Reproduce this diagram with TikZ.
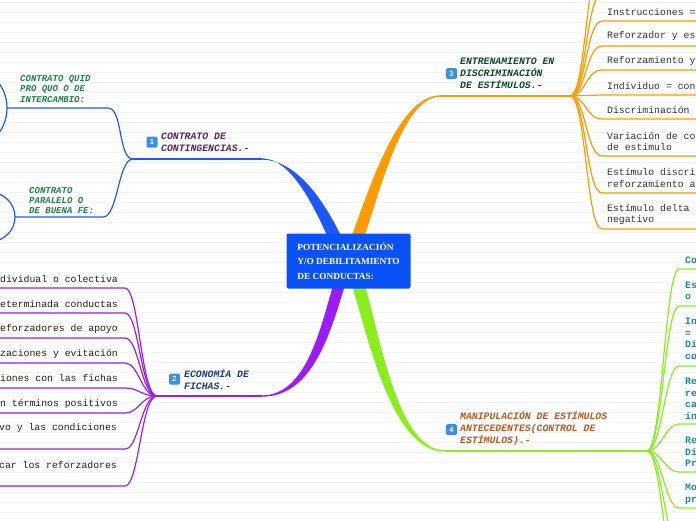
\documentclass[tikz,border=0pt]{standalone}
\usepackage{fontspec}
\setmainfont{Liberation Serif}
\setmonofont{Liberation Mono}
\newfontfamily\iconfont{Liberation Sans}
\usepackage{tikz}
\usetikzlibrary{backgrounds}

\definecolor{rootblue}{HTML}{0A52F8}
\definecolor{blueline}{HTML}{1F57FF}
\definecolor{purpleline}{HTML}{9D1CF5}
\definecolor{orangeline}{HTML}{FF9A00}
\definecolor{limeline}{HTML}{8AEE1E}
\definecolor{iconblue}{HTML}{3A8EE6}
\definecolor{txtpurple}{HTML}{57246F}
\definecolor{txtnavy}{HTML}{1B3C8C}
\definecolor{txtdkgreen}{HTML}{0F4A2C}
\definecolor{txtrust}{HTML}{C0561E}
\definecolor{txtgreen}{HTML}{1A8548}
\definecolor{txtbrown}{HTML}{2A1D14}
\definecolor{txtgray}{HTML}{333333}
\definecolor{txtteal}{HTML}{178F8F}
\definecolor{stripe}{HTML}{F4F4F4}

\tikzset{
  rootbox/.style={fill=rootblue, rounded corners=2pt, minimum width=124pt, minimum height=55pt,
    inner sep=0pt, text=white, align=left, font=\bfseries\fontsize{9.3}{14.5}\selectfont},
  mainlabel/.style={anchor=west, inner sep=0pt, align=left,
    font=\ttfamily\bfseries\itshape\fontsize{9.8}{12}\selectfont},
  contractlabel/.style={anchor=west, inner sep=0pt, align=left, text=txtgreen,
    font=\ttfamily\bfseries\itshape\fontsize{9}{10.3}\selectfont},
  leaf/.style={inner sep=0pt, align=left, font=\ttfamily\fontsize{9.8}{11.5}\selectfont},
  numicon/.style={fill=iconblue, rounded corners=1.5pt, minimum size=11pt, inner sep=0pt,
    text=white, font=\iconfont\bfseries\fontsize{7.5}{7.5}\selectfont},
  twig/.style={line width=1.2pt},
}

\begin{document}
\begin{tikzpicture}[x=1pt,y=-1pt]
\useasboundingbox (0,0) rectangle (696,520);

% centre
\node[rootbox] (root) at (348.5,261) {POTENCIALIZACIÓN\\Y/O DEBILITAMIENTO\\DE CONDUCTAS:};

% hubs and branch ends
\coordinate (b1) at (262,159);
\coordinate (h1) at (133,159);
\coordinate (b2) at (262,396);
\coordinate (h2) at (157,396);
\coordinate (b3) at (440,96);
\coordinate (h3) at (570,96);
\coordinate (b4) at (445,451);
\coordinate (h4) at (647,451);

\begin{scope}[on background layer]
\foreach \y in {2.5,12.5,...,522.5}
  \draw[stripe,line width=1.2pt] (0,\y) -- (696,\y);
% main branches, thick at the centre
\fill[blueline] (329,240) .. controls (314,206) and (291,158.3) .. (262,158.3)
  -- (262,159.7) .. controls (298,159.9) and (326,204) .. (343,240) -- cycle;
\fill[orangeline] (350,240) .. controls (366,200) and (396,95.3) .. (440,95.3)
  -- (440,96.7) .. controls (401,97) and (378,200) .. (363,240) -- cycle;
\fill[purpleline] (334,282) .. controls (320,330) and (306,395.3) .. (262,395.3)
  -- (262,396.7) .. controls (314,396.7) and (331,330) .. (346,282) -- cycle;
\fill[limeline] (351,282) .. controls (369,340) and (392,451.7) .. (445,451.7)
  -- (445,450.3) .. controls (398,450.3) and (381,340) .. (364,282) -- cycle;
\end{scope}

% 1 CONTRATO DE CONTINGENCIAS
\draw[twig,blueline] (b1) -- (h1);
\node[numicon] (i1) at (152,142) {1};
\node[mainlabel,text=txtpurple] (c1) at (161,142) {CONTRATO DE\\CONTINGENCIAS.-};
\coordinate (q1a) at (108,108);
\coordinate (q2a) at (103,217);
\draw[twig,blueline] (h1) .. controls +(-15,0) and +(15,0) .. (q1a) -- (7,108);
\draw[twig,blueline] (h1) .. controls +(-15,0) and +(15,0) .. (q2a) -- (15,217);
\draw[twig,blueline] (-36,108) circle[radius=43];
\draw[twig,blueline] (-9.4,217) circle[radius=24.4];
\node[contractlabel] (q1) at (20,89) {CONTRATO QUID\\PRO QUO O DE\\INTERCAMBIO:};
\node[contractlabel] (q2) at (29,200.5) {CONTRATO\\PARALELO O\\DE BUENA FE:};

% 2 ECONOMIA DE FICHAS
\draw[twig,purpleline] (b2) -- (h2);
\node[numicon] (i2) at (174.5,379) {2};
\node[mainlabel,text=txtnavy] (e1) at (184,379) {ECONOMÍA DE\\FICHAS.-};
\coordinate (p1) at (125,288);
\coordinate (p2) at (125,313);
\coordinate (p3) at (125,338);
\coordinate (p4) at (125,363);
\coordinate (p5) at (125,388);
\coordinate (p6) at (125,413);
\coordinate (p7) at (125,449);
\coordinate (p8) at (125,486);
\draw[twig,purpleline] (h2) .. controls +(-16,0) and +(14,0) .. (p1) -- (0,288);
\draw[twig,purpleline] (h2) .. controls +(-16,0) and +(14,0) .. (p2) -- (0,313);
\draw[twig,purpleline] (h2) .. controls +(-16,0) and +(14,0) .. (p3) -- (0,338);
\draw[twig,purpleline] (h2) .. controls +(-16,0) and +(14,0) .. (p4) -- (0,363);
\draw[twig,purpleline] (h2) .. controls +(-16,0) and +(14,0) .. (p5) -- (0,388);
\draw[twig,purpleline] (h2) .. controls +(-16,0) and +(14,0) .. (p6) -- (0,413);
\draw[twig,purpleline] (h2) .. controls +(-16,0) and +(14,0) .. (p7) -- (0,449);
\draw[twig,purpleline] (h2) .. controls +(-16,0) and +(14,0) .. (p8) -- (0,486);
\node[leaf,anchor=east,text=txtbrown] (f1) at (118,279) {dividual o colectiva};
\node[leaf,anchor=east,text=txtbrown] (f2) at (118,304) {eterminada conductas};
\node[leaf,anchor=east,text=txtbrown] (f3) at (118,329) {eforzadores de apoyo};
\node[leaf,anchor=east,text=txtbrown] (f4) at (118,354) {zaciones y evitación};
\node[leaf,anchor=east,text=txtbrown] (f5) at (118,378) {iones con las fichas};
\node[leaf,anchor=east,text=txtbrown] (f6) at (118,404) {n términos positivos};
\node[leaf,anchor=east,text=txtbrown] (f7) at (117,428) {vo y las condiciones};
\node[leaf,anchor=east,text=txtbrown] (f8) at (117,465) {car los reforzadores};

% 3 ENTRENAMIENTO EN DISCRIMINACION
\draw[twig,orangeline] (b3) -- (h3);
\node[numicon] (i3) at (451.5,73.5) {3};
\node[mainlabel,text=txtdkgreen] (t1) at (460,73) {ENTRENAMIENTO EN\\DISCRIMINACIÓN\\DE ESTÍMULOS.-};
\coordinate (o0) at (602,-6);
\coordinate (o9) at (602,-40);
\coordinate (o1) at (602,21);
\coordinate (o2) at (602,46);
\coordinate (o3) at (602,70);
\coordinate (o4) at (602,95);
\coordinate (o5) at (602,119);
\coordinate (o6) at (602,156);
\coordinate (o7) at (602,193);
\coordinate (o8) at (602,229);
\draw[twig,orangeline] (h3) .. controls +(16,0) and +(-16,0) .. (o9);
\draw[twig,orangeline] (h3) .. controls +(16,0) and +(-16,0) .. (o0);
\draw[twig,orangeline] (h3) .. controls +(16,0) and +(-16,0) .. (o1) -- (696,21);
\draw[twig,orangeline] (h3) .. controls +(16,0) and +(-16,0) .. (o2) -- (696,46);
\draw[twig,orangeline] (h3) .. controls +(16,0) and +(-16,0) .. (o3) -- (696,70);
\draw[twig,orangeline] (h3) .. controls +(16,0) and +(-16,0) .. (o4) -- (696,95);
\draw[twig,orangeline] (h3) .. controls +(16,0) and +(-16,0) .. (o5) -- (696,119);
\draw[twig,orangeline] (h3) .. controls +(16,0) and +(-16,0) .. (o6) -- (696,156);
\draw[twig,orangeline] (h3) .. controls +(16,0) and +(-16,0) .. (o7) -- (696,193);
\draw[twig,orangeline] (h3) .. controls +(16,0) and +(-16,0) .. (o8) -- (696,229);
\node[leaf,anchor=west,text=txtgray] (d1) at (607,12) {Instrucciones =};
\node[leaf,anchor=west,text=txtgray] (d2) at (607,36) {Reforzador y es};
\node[leaf,anchor=west,text=txtgray] (d3) at (607,61) {Reforzamiento y};
\node[leaf,anchor=west,text=txtgray] (d4) at (607,86) {Individuo = con};
\node[leaf,anchor=west,text=txtgray] (d5) at (607,110) {Discriminación};
\node[leaf,anchor=west,text=txtgray] (d6) at (607,141.5) {Variación de co\\de estímulo};
\node[leaf,anchor=west,text=txtgray] (d7) at (607,178) {Estímulo discri\\reforzamiento a};
\node[leaf,anchor=west,text=txtgray] (d8) at (607,214.5) {Estímulo delta\\negativo};

% 4 MANIPULACION DE ESTIMULOS
\draw[twig,limeline] (b4) -- (h4);
\node[numicon] (i4) at (451.5,429.5) {4};
\node[mainlabel,text=txtrust] (m1) at (460,428) {MANIPULACIÓN DE ESTÍMULOS\\ANTECEDENTES(CONTROL DE\\ESTÍMULOS).-};
\coordinate (g1) at (679,269);
\coordinate (g2) at (679,306);
\coordinate (g3) at (679,366);
\coordinate (g4) at (679,424);
\coordinate (g5) at (679,472);
\coordinate (g6) at (679,508);
\coordinate (g7) at (679,545);
\coordinate (g8) at (679,585);
\draw[twig,limeline] (h4) .. controls +(15,0) and +(-14,0) .. (g1) -- (696,269);
\draw[twig,limeline] (h4) .. controls +(15,0) and +(-14,0) .. (g2) -- (696,306);
\draw[twig,limeline] (h4) .. controls +(15,0) and +(-14,0) .. (g3) -- (696,366);
\draw[twig,limeline] (h4) .. controls +(15,0) and +(-14,0) .. (g4) -- (696,424);
\draw[twig,limeline] (h4) .. controls +(15,0) and +(-14,0) .. (g5) -- (696,472);
\draw[twig,limeline] (h4) .. controls +(15,0) and +(-14,0) .. (g6) -- (696,508);
\draw[twig,limeline] (h4) .. controls +(15,0) and +(-14,0) .. (g7);
\draw[twig,limeline] (h4) .. controls +(15,0) and +(-14,0) .. (g8);
\node[leaf,anchor=west,text=txtteal,font=\ttfamily\bfseries\fontsize{9.8}{11.5}\selectfont] (s1) at (685,260) {Co};
\node[leaf,anchor=west,text=txtteal,font=\ttfamily\bfseries\fontsize{9.8}{11.5}\selectfont] (s2) at (685,291) {Es\\o};
\node[leaf,anchor=west,text=txtteal,font=\ttfamily\bfseries\fontsize{9.8}{11.5}\selectfont] (s3) at (685,339) {In\\=\\Di\\co};
\node[leaf,anchor=west,text=txtteal,font=\ttfamily\bfseries\fontsize{9.8}{11.5}\selectfont] (s4) at (685,399) {Re\\re\\ca\\in};
\node[leaf,anchor=west,text=txtteal,font=\ttfamily\bfseries\fontsize{9.8}{11.5}\selectfont] (s5) at (685,452) {Re\\Di\\Pr};
\node[leaf,anchor=west,text=txtteal,font=\ttfamily\bfseries\fontsize{9.8}{11.5}\selectfont] (s6) at (685,494.5) {Mo\\pr};
\end{tikzpicture}
\end{document}
